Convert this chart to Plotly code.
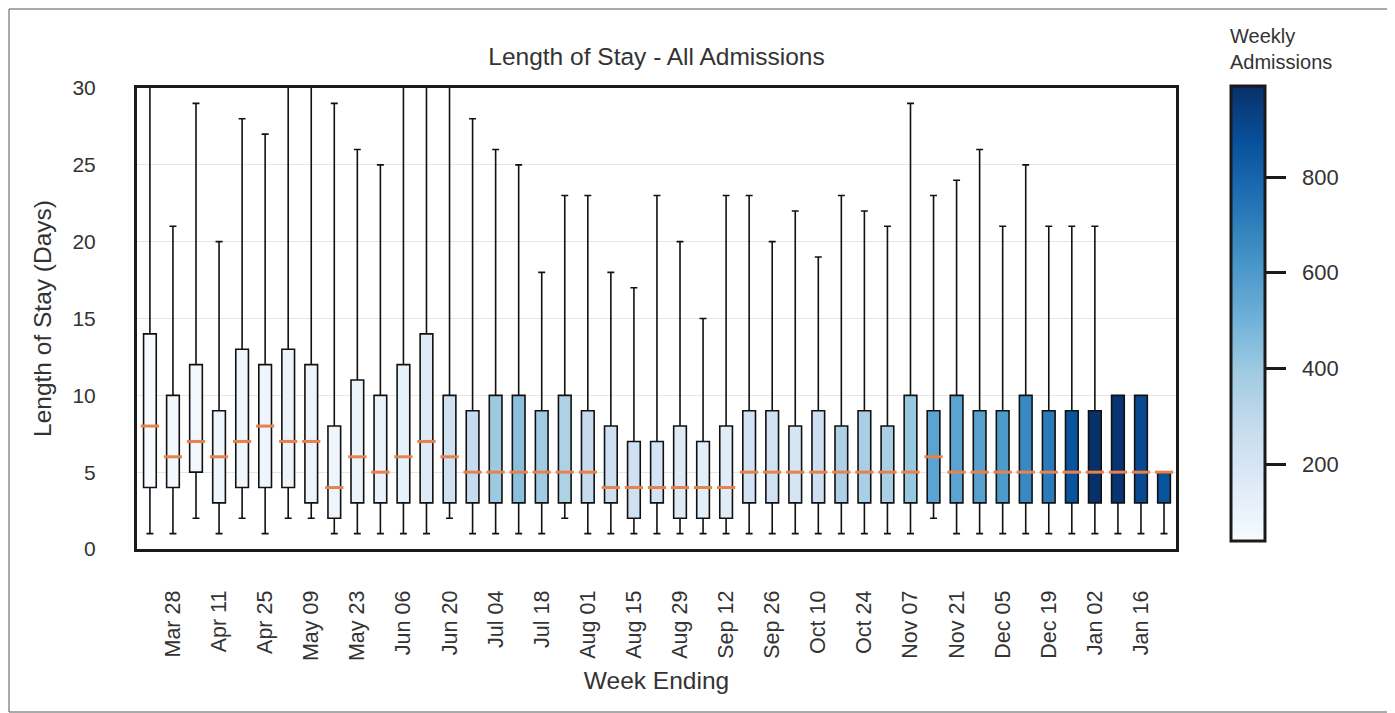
import plotly.graph_objects as go
from plotly.colors import sample_colorscale

weeks = ["Mar 21", "Mar 28", "Apr 04", "Apr 11", "Apr 18", "Apr 25", "May 02", "May 09",
         "May 16", "May 23", "May 30", "Jun 06", "Jun 13", "Jun 20", "Jun 27", "Jul 04",
         "Jul 11", "Jul 18", "Jul 25", "Aug 01", "Aug 08", "Aug 15", "Aug 22", "Aug 29",
         "Sep 05", "Sep 12", "Sep 19", "Sep 26", "Oct 03", "Oct 10", "Oct 17", "Oct 24",
         "Oct 31", "Nov 07", "Nov 14", "Nov 21", "Nov 28", "Dec 05", "Dec 12", "Dec 19",
         "Dec 26", "Jan 02", "Jan 09", "Jan 16", "Jan 23"]

lower = [1, 1, 2, 1, 2, 1, 2, 2, 1, 1, 1, 1, 1, 2, 1, 1, 1, 1, 2, 1, 1, 1, 1, 1, 1,
         1, 1, 1, 1, 1, 1, 1, 1, 1, 2, 1, 1, 1, 1, 1, 1, 1, 1, 1, 1]
q1 = [4, 4, 5, 3, 4, 4, 4, 3, 2, 3, 3, 3, 3, 3, 3, 3, 3, 3, 3, 3, 3, 2, 3, 2, 2,
      2, 3, 3, 3, 3, 3, 3, 3, 3, 3, 3, 3, 3, 3, 3, 3, 3, 3, 3, 3]
median = [8, 6, 7, 6, 7, 8, 7, 7, 4, 6, 5, 6, 7, 6, 5, 5, 5, 5, 5, 5, 4, 4, 4, 4, 4,
          4, 5, 5, 5, 5, 5, 5, 5, 5, 6, 5, 5, 5, 5, 5, 5, 5, 5, 5, 5]
q3 = [14, 10, 12, 9, 13, 12, 13, 12, 8, 11, 10, 12, 14, 10, 9, 10, 10, 9, 10, 9, 8, 7, 7, 8, 7,
      8, 9, 9, 8, 9, 8, 9, 8, 10, 9, 10, 9, 9, 10, 9, 9, 9, 10, 10, 5]
upper = [40, 21, 29, 20, 28, 27, 40, 40, 29, 26, 25, 40, 40, 40, 28, 26, 25, 18, 23, 23, 18, 17, 23, 20, 15,
         23, 23, 20, 22, 19, 23, 22, 21, 29, 23, 24, 26, 21, 25, 21, 21, 21, 10, 10, 5]
admissions = [40, 60, 70, 75, 80, 85, 90, 90, 85, 95, 100, 115, 160, 230, 276, 395,
              440, 390, 350, 275, 240, 240, 210, 160, 140, 150, 220, 230, 200, 245,
              350, 365, 360, 410, 560, 560, 570, 600, 670, 715, 860, 990, 975, 900, 860]
cbar_ticks = [200, 400, 600, 800]

label_idx = list(range(1, len(weeks), 2))

blues = ['rgb(247,251,255)', 'rgb(222,235,247)', 'rgb(198,219,239)', 'rgb(158,202,225)',
         'rgb(107,174,214)', 'rgb(66,146,198)', 'rgb(33,113,181)', 'rgb(8,81,156)', 'rgb(8,48,107)']
cmin, cmax = min(admissions), max(admissions)
fracs = [(a - cmin) / (cmax - cmin) for a in admissions]
fills = sample_colorscale(blues, fracs)

FONT = "Liberation Sans, Arial, sans-serif"
TXT = "#333333"

# layout geometry (figure pixels)
L, R, T, B = 129, 227, 80, 172
W, H = 1395, 713
PW, PH = W - L - R, H - T - B
CB_TOP, CB_LEN = 78, 455          # colorbar extent in figure pixels
CB_CENTER = CB_TOP + CB_LEN / 2

fig = go.Figure()
for i in range(len(weeks)):
    fig.add_trace(go.Box(
        x=[i], q1=[q1[i]], median=[median[i]], q3=[q3[i]],
        lowerfence=[lower[i]], upperfence=[upper[i]],
        fillcolor=fills[i], line=dict(color="#111111", width=1.6),
        width=0.55, whiskerwidth=0.55, boxpoints=False,
        showlegend=False, hoverinfo="skip",
    ))

fig.add_trace(go.Scatter(
    x=list(range(len(weeks))), y=median, mode="markers",
    marker=dict(symbol="line-ew", size=13, line=dict(color="#e8824c", width=3)),
    showlegend=False, hoverinfo="skip",
))

fig.add_trace(go.Scatter(
    x=[None], y=[None], mode="markers",
    marker=dict(color=[cmin, cmax], cmin=cmin, cmax=cmax, colorscale=blues,
                showscale=True,
                colorbar=dict(x=(1223 - L) / PW, xanchor="left", xref="paper", xpad=0,
                              y=(H - B - CB_CENTER) / PH, yanchor="middle", ypad=0,
                              len=CB_LEN / PH, lenmode="fraction",
                              thickness=34, thicknessmode="pixels",
                              outlinewidth=3, outlinecolor="#1a1a1a",
                              ticks="outside", ticklen=20, tickwidth=3, tickcolor="#1a1a1a",
                              tickvals=cbar_ticks, showticklabels=False)),
    showlegend=False, hoverinfo="skip",
))

annotations = [dict(text="Weekly<br>Admissions", xref="paper", yref="paper",
                    x=(1220 - L) / PW, y=(H - B - 15) / PH, xanchor="left", yanchor="top",
                    align="left", showarrow=False, font=dict(size=20, color=TXT, family=FONT))]
for v in cbar_ticks:
    fy = CB_TOP + CB_LEN - (v - cmin) / (cmax - cmin) * CB_LEN
    annotations.append(dict(text=str(v), xref="paper", yref="paper",
                            x=(1292 - L) / PW, y=(H - B - fy) / PH,
                            xanchor="left", yanchor="middle", showarrow=False,
                            font=dict(size=22, color=TXT, family=FONT)))

fig.update_layout(
    width=W, height=H,
    margin=dict(l=L, r=R, t=T, b=B),
    paper_bgcolor="white", plot_bgcolor="white",
    boxmode="overlay",
    font=dict(family=FONT, color=TXT),
    title=dict(text="Length of Stay - All Admissions", x=(L + PW / 2) / W, xanchor="center",
               y=1 - 48 / H, yanchor="middle", font=dict(size=24.5, color=TXT, family=FONT)),
    xaxis=dict(range=[-0.56, 44.52], tickmode="array", tickvals=label_idx,
               ticktext=[weeks[i] for i in label_idx], tickangle=-90,
               ticks="", ticklabelstandoff=30, showgrid=False, zeroline=False,
               showline=True, mirror=True, linewidth=3, linecolor="#1a1a1a",
               tickfont=dict(size=21.5, color=TXT),
               title=dict(text="Week Ending", font=dict(size=24.5, color=TXT), standoff=12)),
    yaxis=dict(range=[0, 30], tickvals=[0, 5, 10, 15, 20, 25, 30], ticks="",
               ticklabelstandoff=34, showgrid=True, gridcolor="#e6e6e6", gridwidth=1,
               zeroline=False, showline=True, mirror=True, linewidth=3, linecolor="#1a1a1a",
               tickfont=dict(size=21, color=TXT),
               title=dict(text="Length of Stay (Days)", font=dict(size=24.5, color=TXT), standoff=14)),
    annotations=annotations,
    shapes=[dict(type="rect", xref="paper", yref="paper",
                 x0=(1 - L) / PW, x1=(1381 - L) / PW,
                 y0=(H - B - 704) / PH, y1=(H - B - 1) / PH,
                 line=dict(color="#555555", width=1), fillcolor="rgba(0,0,0,0)", layer="below")],
)

fig.write_html("out.html")
